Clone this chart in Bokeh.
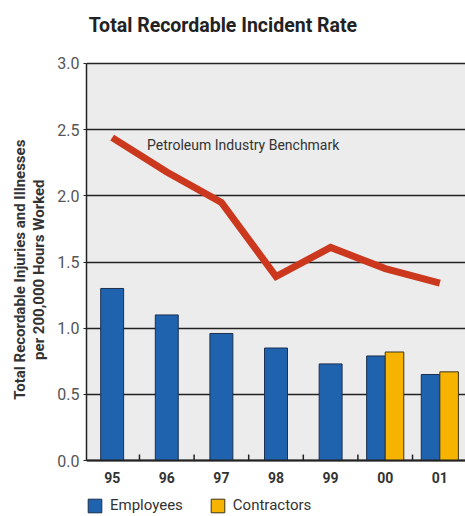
from bokeh.plotting import figure
from bokeh.models import (FixedTicker, Legend, LegendItem, Label,
                          ColumnDataSource, Range1d, BoxAnnotation, Span)
from bokeh.core.properties import value
from bokeh.embed import file_html
from bokeh.resources import INLINE

# Data: incident rates per 200,000 hours worked
years = ["95", "96", "97", "98", "99", "00", "01"]
employees = [1.30, 1.10, 0.96, 0.85, 0.73, 0.79, 0.65]
contractors = [None, None, None, None, None, 0.82, 0.67]
benchmark = [2.44, 2.18, 1.95, 1.39, 1.61, 1.45, 1.34]
y_ticks = [0, 0.5, 1.0, 1.5, 2.0, 2.5, 3.0]

FONT = "Roboto"
BLUE = "#1f62ad"
YELLOW = "#f6b400"
RED = "#cc381d"
INK = "#222222"

idx = list(range(len(years)))
single_w = 0.42
pair_w = 0.34
Y_TOP = 3.0           # top of the value scale
Y_MAX = 3.476         # head room above the scale for the chart title
Y_MIN = -0.423        # room under the baseline for year labels and legend
LABEL_Y = -0.128
TITLE_Y = 3.287
X_MIN, X_MAX = -0.47, 6.47

# years with only employee data get a centred bar, the others a side-by-side pair
emp_x, emp_w = [], []
con_x, con_top = [], []
for i, (e, c) in enumerate(zip(employees, contractors)):
    if c is None:
        emp_x.append(i)
        emp_w.append(single_w)
    else:
        emp_x.append(i - pair_w / 2)
        emp_w.append(pair_w)
        con_x.append(i + pair_w / 2)
        con_top.append(c)

p = figure(width=465, height=516, output_backend="svg", toolbar_location=None,
           x_range=Range1d(X_MIN, X_MAX), y_range=Range1d(Y_MIN, Y_MAX),
           min_border_left=86, min_border_right=0, min_border_top=0,
           min_border_bottom=0, background_fill_color="white",
           border_fill_color="white", outline_line_color=None)

p.add_layout(Label(x=X_MIN + 0.04, y=TITLE_Y,
                   text="Total Recordable Incident Rate", text_font=FONT,
                   text_font_size="19.5px", text_font_style="bold",
                   text_color=INK, text_baseline="middle"))

# shaded plotting area between 0 and the top of the scale, under the grid
p.add_layout(BoxAnnotation(bottom=0, top=Y_TOP, fill_color="#ececec",
                           fill_alpha=1, line_color=None, level="image"))

emp_src = ColumnDataSource(dict(x=emp_x, top=employees, w=emp_w))
con_src = ColumnDataSource(dict(x=con_x, top=con_top))

r_emp = p.vbar(x="x", top="top", width="w", source=emp_src, fill_color=BLUE,
               line_color="#1b2f4f", line_width=1)
r_con = p.vbar(x="x", top="top", width=pair_w, source=con_src,
               fill_color=YELLOW, line_color="#3a3320", line_width=1)

# baseline and small separators between year groups
p.add_layout(Span(location=0, dimension="width", line_color=INK,
                  line_width=2))
sep_x = [i + 0.5 for i in idx[:-1]]
p.segment(x0=sep_x, x1=sep_x, y0=[0] * len(sep_x), y1=[0.045] * len(sep_x),
          line_color=INK, line_width=1.5)

# year labels under the baseline
p.text(x=idx, y=[LABEL_Y] * len(idx), text=years, text_font=value(FONT),
       text_font_size="14px", text_font_style="bold", text_color="#333333",
       text_align="center", text_baseline="middle")

p.line(idx, benchmark, line_color=RED, line_width=7, line_join="miter")

p.add_layout(Label(x=0.64, y=2.32, text="Petroleum Industry Benchmark",
                   text_font=FONT, text_font_size="14px",
                   text_color="#333333"))

# axes
p.xaxis.visible = False

p.yaxis.ticker = FixedTicker(ticks=y_ticks)
p.yaxis.bounds = (0, Y_TOP)
p.yaxis.major_label_overrides = {t: f"{t:.1f}" for t in y_ticks}
p.yaxis.minor_tick_line_color = None
p.yaxis.major_tick_out = 3
p.yaxis.major_tick_in = 0
p.yaxis.major_tick_line_color = INK
p.yaxis.axis_line_color = INK
p.yaxis.axis_line_width = 1.5
p.yaxis.major_label_text_font = FONT
p.yaxis.major_label_text_font_size = "16px"
p.yaxis.major_label_text_color = "#555555"
p.yaxis.major_label_standoff = 4
# trailing no-break spaces lower the centred title toward the shaded area's middle
pad = "\u00a0" * 6
p.yaxis.axis_label = ("Total Recordable Injuries and Illnesses" + pad + "\n"
                      "per 200,000 Hours Worked" + pad)
p.yaxis.axis_label_text_font = FONT
p.yaxis.axis_label_text_font_size = "15px"
p.yaxis.axis_label_text_font_style = "bold"
p.yaxis.axis_label_text_color = "#333333"
p.yaxis.axis_label_text_line_height = 1.05
p.yaxis.axis_label_standoff = 6

p.xgrid.grid_line_color = None
p.ygrid.grid_line_color = INK
p.ygrid.grid_line_width = 1.5

legend = Legend(items=[LegendItem(label="Employees", renderers=[r_emp]),
                       LegendItem(label="Contractors", renderers=[r_con])],
                orientation="horizontal", location=(0, 2),
                glyph_width=17, glyph_height=17, spacing=26, padding=0,
                margin=0, label_standoff=7, label_text_font=FONT,
                label_text_font_size="15px", label_text_color="#333333",
                background_fill_alpha=0, border_line_color=None)
p.add_layout(legend)

open("out.html", "w").write(file_html(p, INLINE))
